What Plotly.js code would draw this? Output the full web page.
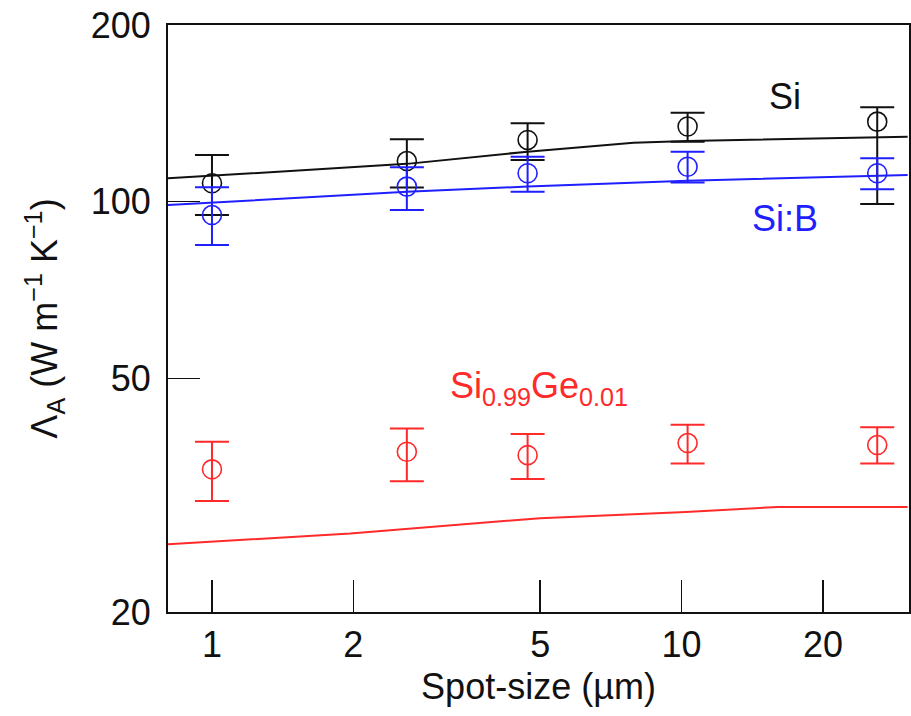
<!DOCTYPE html>
<html><head><meta charset="utf-8">
<script src="https://cdn.plot.ly/plotly-2.35.2.min.js"></script>
<style>html,body{margin:0;padding:0;background:#fff}#chart{width:911px;height:716px}</style>
</head><body><div id="chart"></div>
<script>
// measured spot sizes (µm)
const spotX = [1.0, 2.6, 4.7, 10.3, 26.1];
// Si
const siY = [107.5, 117.3, 127.4, 134.3, 136.9];
const siUpper = [120.1, 127.7, 136.1, 141.8, 144.8];
const siLower = [94.9, 105.7, 117.8, 126.5, 99.1];
// Si:B
const sibY = [94.9, 106.1, 111.8, 114.7, 111.8];
const sibUpper = [105.8, 114.5, 119.3, 121.7, 118.6];
const sibLower = [84.4, 96.8, 104.0, 107.8, 105.0];
// Si0.99Ge0.01
const sigeY = [35.0, 37.5, 37.0, 38.8, 38.5];
const sigeUpper = [39.0, 41.1, 40.2, 41.7, 41.3];
const sigeLower = [30.9, 33.4, 33.7, 35.8, 35.8];
// model curves
const siLineX = [0.806, 2.6, 4.7, 7.9, 10.3, 30.3];
const siLineY = [109.6, 116.0, 121.7, 126.0, 126.9, 129.0];
const sibLineX = [0.806, 2.6, 4.7, 10.3, 30.3];
const sibLineY = [98.7, 104.0, 106.1, 108.6, 111.0];
const sigeLineX = [0.806, 1.97, 5.0, 10.2, 16, 30.3];
const sigeLineY = [26.1, 27.2, 28.9, 29.6, 30.2, 30.2];

const xTicks = [1, 2, 5, 10, 20];
const yTicks = [20, 50, 100, 200];

const BLACK = '#111111', BLUE = '#1f1fff', RED = '#ff2a2a';

function diff(a, b) { return a.map((v, i) => v - b[i]); }

function pts(y, up, lo, color) {
  return {
    x: spotX, y: y, type: 'scatter', mode: 'markers',
    marker: {symbol: 'circle-open', size: 19, color: color, line: {width: 1.6, color: color}},
    error_y: {type: 'data', symmetric: false, array: diff(up, y), arrayminus: diff(y, lo),
              color: color, thickness: 2, width: 17},
    showlegend: false, hoverinfo: 'skip'
  };
}
function line(x, y, color) {
  return {x: x, y: y, type: 'scatter', mode: 'lines', line: {color: color, width: 2},
          showlegend: false, hoverinfo: 'skip'};
}

const data = [
  line(siLineX, siLineY, BLACK), line(sibLineX, sibLineY, BLUE), line(sigeLineX, sigeLineY, RED),
  pts(siY, siUpper, siLower, BLACK), pts(sibY, sibUpper, sibLower, BLUE), pts(sigeY, sigeUpper, sigeLower, RED)
];

const FAM = 'Liberation Sans, Arial, sans-serif';
const font = {family: FAM, size: 36, color: '#111'};
const layout = {
  width: 911, height: 716,
  margin: {l: 168, r: 2, t: 25, b: 104},
  paper_bgcolor: '#fff', plot_bgcolor: '#fff',
  font: font,
  xaxis: {
    type: 'log', range: [Math.log10(0.806), Math.log10(30.5)],
    tickvals: xTicks, ticktext: xTicks.map(String),
    ticks: 'inside', ticklen: 32, tickwidth: 1.5, tickcolor: '#111',
    showline: true, linecolor: '#111', linewidth: 2, mirror: true,
    showgrid: false, zeroline: false,
    tickfont: font,
    title: {text: 'Spot-size (µm)', font: font, standoff: 10}
  },
  yaxis: {
    type: 'log', range: [Math.log10(20), Math.log10(200)],
    tickvals: yTicks, ticktext: yTicks.map(String),
    ticks: 'inside', ticklen: 32, tickwidth: 1.5, tickcolor: '#111',
    showline: true, linecolor: '#111', linewidth: 2, mirror: true,
    showgrid: false, zeroline: false,
    tickfont: font, ticklabelstandoff: 8,
    title: {text: 'Λ<sub>A</sub> (W m<sup>−1</sup> K<sup>−1</sup>)', font: font, standoff: 22}
  },
  annotations: [
    {x: Math.log10(16.6), y: Math.log10(150.8), xref: 'x', yref: 'y', text: 'Si', showarrow: false,
     font: {family: FAM, size: 36, color: BLACK}},
    {x: Math.log10(16.6), y: Math.log10(93.8), xref: 'x', yref: 'y', text: 'Si:B', showarrow: false,
     font: {family: FAM, size: 36, color: BLUE}},
    {x: Math.log10(4.98), y: Math.log10(48.2), xref: 'x', yref: 'y',
     text: 'Si<sub>0.99</sub>Ge<sub>0.01</sub>', showarrow: false,
     font: {family: FAM, size: 36, color: RED}}
  ]
};

Plotly.newPlot('chart', data, layout, {displayModeBar: false, staticPlot: true});
</script>
</body></html>
